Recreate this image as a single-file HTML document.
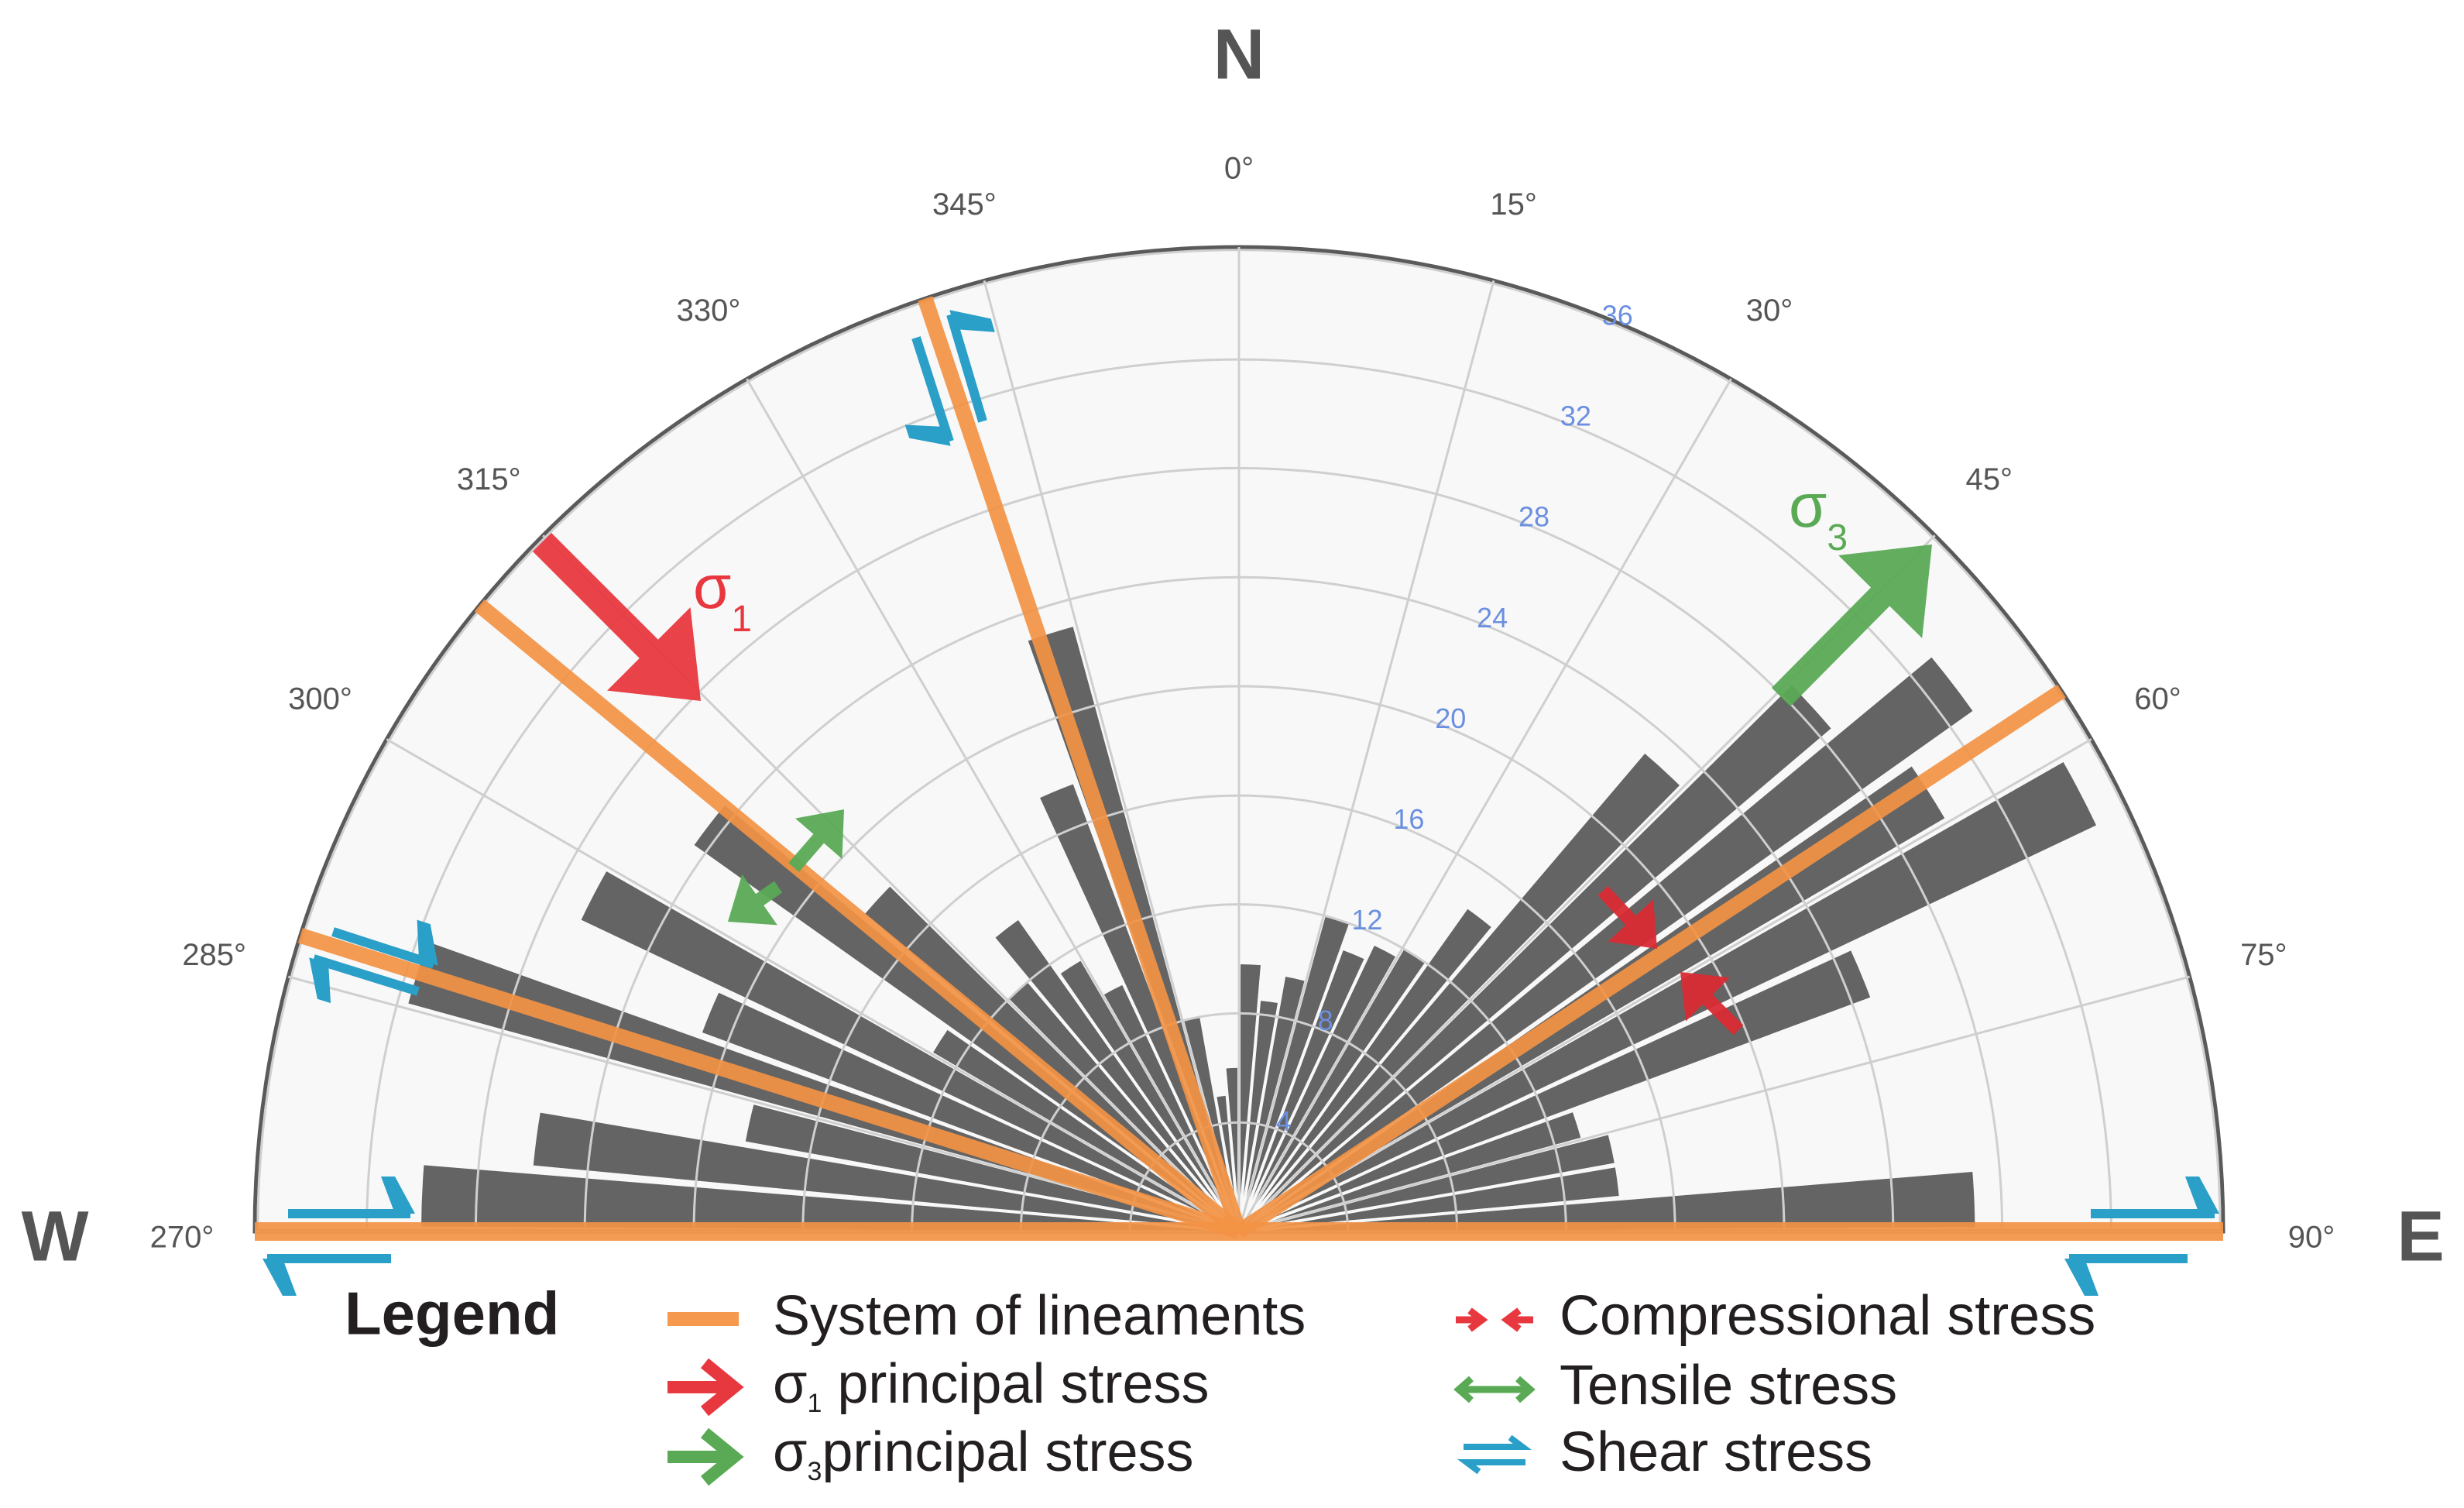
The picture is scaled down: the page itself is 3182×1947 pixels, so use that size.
<!DOCTYPE html>
<html><head><meta charset="utf-8"><style>
html,body{margin:0;padding:0;background:#fff}
svg{display:block}
text{font-family:"Liberation Sans",sans-serif}
</style></head><body>
<svg id="chart" width="3182" height="1947" viewBox="0 0 3182 1947" xmlns="http://www.w3.org/2000/svg">
<g id="bg"></g><g id="bars"></g><g id="grid"></g><g id="lines"></g><g id="arrows"></g><g id="labels"></g>
<g>
<text x="445" y="1702" font-size="78" font-weight="bold" fill="#231f20" dominant-baseline="middle">Legend</text>
<rect x="862" y="1694" width="92" height="18" fill="#f5994f"/>
<text x="998" y="1704" font-size="72" fill="#231f20" dominant-baseline="middle">System of lineaments</text>
<path d="M862 1791 H940 M910 1760 L948 1791 L910 1822" stroke="#e8383f" stroke-width="16" fill="none"/>
<text x="998" y="1792" font-size="72" fill="#231f20" dominant-baseline="middle">σ<tspan font-size="34" dy="22">1</tspan><tspan dy="-22"> principal stress</tspan></text>
<path d="M862 1881 H940 M910 1850 L948 1881 L910 1912" stroke="#5aaa55" stroke-width="16" fill="none"/>
<text x="998" y="1880" font-size="72" fill="#231f20" dominant-baseline="middle">σ<tspan font-size="34" dy="22">3</tspan><tspan dy="-22">principal stress</tspan></text>
<path d="M1880 1704 H1912 M1898 1692 L1914 1704 L1898 1716 M1980 1704 H1948 M1962 1692 L1946 1704 L1962 1716" stroke="#e8383f" stroke-width="9" fill="none"/>
<text x="2014" y="1704" font-size="72" fill="#231f20" dominant-baseline="middle">Compressional stress</text>
<path d="M1884 1794 H1976 M1900 1780 L1884 1794 L1900 1808 M1960 1780 L1976 1794 L1960 1808" stroke="#5aaa55" stroke-width="9" fill="none"/>
<text x="2014" y="1794" font-size="72" fill="#231f20" dominant-baseline="middle">Tensile stress</text>
<path d="M1890 1868 H1966 L1950 1856 M1970 1888 H1894 L1910 1900" stroke="#2a9fc8" stroke-width="8" fill="none"/>
<text x="2014" y="1880" font-size="72" fill="#231f20" dominant-baseline="middle">Shear stress</text>
</g>
</svg>
<script>
const binStarts = [270,275,280,285,290,295,300,305,310,315,320,325,330,335,340,345,350,355,0,5,10,15,20,25,30,35,40,45,50,55,60,65,70,75,80,85];
const binCounts = [30,26,18.4,31.6,21,26.7,13,24.5,18,12,14,11.5,10,17.5,23,8,5,6,9.8,8.5,9.5,12,11,11.6,12,14.5,23,28.5,33,30,34.8,24.7,13,14,14,27];
const ringValues = [4,8,12,16,20,24,28,32,36];
const ringLabels = ['4','8','12','16','20','24','28','32','36'];
const spokeAngles = [270,285,300,315,330,345,0,15,30,45,60,75,90];
const spokeLabels = ['270°','285°','300°','315°','330°','345°','0°','15°','30°','45°','60°','75°','90°'];
const lineamentAngles = [270,287.5,309.5,341.4,56.7];

const NS='http://www.w3.org/2000/svg';
const CX=1600, CY=1590, K=35.2, RMAX=1271, BIN=5;
function rad(v){return v*K;}
function pt(a,r){const t=a*Math.PI/180;return [CX+r*Math.sin(t), CY-r*Math.cos(t)];}
function mk(tag,attrs,parent){const e=document.createElementNS(NS,tag);for(const k in attrs)e.setAttribute(k,attrs[k]);parent.appendChild(e);return e;}
const gBg=document.getElementById('bg'),gBars=document.getElementById('bars'),gGrid=document.getElementById('grid'),gLines=document.getElementById('lines'),gLab=document.getElementById('labels'),gArr=document.getElementById('arrows');

const bg=mk('path',{d:`M${CX-RMAX} ${CY} A${RMAX} ${RMAX} 0 0 1 ${CX+RMAX} ${CY} Z`,fill:'#f8f8f8',stroke:'#5a5a5a','stroke-width':5},gBg);



binStarts.forEach((s,i)=>{
  const r=rad(binCounts[i]);
  const a0=s+0.35,a1=s+BIN-0.35;
  const p0=pt(a0,r),p1=pt(a1,r);
  const b=mk('path',{d:`M${CX} ${CY} L${p0[0]} ${p0[1]} A${r} ${r} 0 0 1 ${p1[0]} ${p1[1]} Z`,fill:'#646464'},gBars);
  
  
});
binStarts.forEach((s,i)=>{
  const p=pt(s,RMAX*0.98);
  if(s===270)return;
  const l=mk('line',{x1:CX,y1:CY,x2:p[0],y2:p[1],stroke:'#f8f8f8','stroke-width':4},gBars);
  
  
});
ringValues.forEach((v,i)=>{
  const r=rad(v);
  const c=mk('path',{d:`M${CX-r} ${CY} A${r} ${r} 0 0 1 ${CX+r} ${CY}`,fill:'none',stroke:'#cfcfcf','stroke-width':3},gGrid);
  
  
  const p=pt(22.5,r+10);
  const t=mk('text',{x:p[0],y:p[1],'font-size':36,fill:'#6b8fe0','text-anchor':'middle','dominant-baseline':'middle'},gLab);
  t.textContent=ringLabels[i];
  
  
});
spokeAngles.forEach((a,i)=>{
  const p=pt(a,RMAX);
  const l=mk('line',{x1:CX,y1:CY,x2:p[0],y2:p[1],stroke:'#cfcfcf','stroke-width':3},gGrid);
  
  
  let q=pt(a,1370);
  if(a===270)q=[235,1600];
  if(a===90)q=[2985,1600];
  const t=mk('text',{x:q[0],y:q[1],'font-size':40,fill:'#555','text-anchor':'middle','dominant-baseline':'middle'},gLab);
  t.textContent=spokeLabels[i];
  
  
});
lineamentAngles.forEach(a=>{
  let x1=CX,y1=CY;
  const p=pt(a,RMAX);
  if(a===270){x1=CX+RMAX;}
  const l=mk('line',{x1:x1,y1:y1,x2:p[0],y2:p[1],stroke:'#f39244','stroke-width':a===270?24:20,'stroke-opacity':0.92},gLines);
  
  
});
[['N',1600,77],['W',71,1603],['E',3126,1603]].forEach(d=>{
  const t=mk('text',{x:d[1],y:d[2],'font-size':92,'font-weight':'bold',fill:'#555','text-anchor':'middle','dominant-baseline':'middle'},gLab);
  t.textContent=d[0];
  
  
});
function arrow(x1,y1,x2,y2,w,head,color,name){
  const dx=x2-x1,dy=y2-y1,L=Math.hypot(dx,dy),ux=dx/L,uy=dy/L,nx=-uy,ny=ux;
  const bx=x2-ux*head,by=y2-uy*head;
  const hw=head*0.8;
  const d=`M${x1+nx*w/2} ${y1+ny*w/2} L${bx+nx*w/2} ${by+ny*w/2} L${bx+nx*hw} ${by+ny*hw} L${x2} ${y2} L${bx-nx*hw} ${by-ny*hw} L${bx-nx*w/2} ${by-ny*w/2} L${x1-nx*w/2} ${y1-ny*w/2} Z`;
  const p=mk('path',{d:d,fill:color,'fill-opacity':0.95},gArr);
  
  
}
arrow(700,700,905,905,34,95,'#e8383f','sigma1-arrow');
arrow(2300,900,2495,703,34,95,'#5aaa55','sigma3-arrow');
arrow(2070,1150,2140,1225,18,50,'#d92b33','compression-arrow-1');
arrow(2245,1330,2170,1255,18,50,'#d92b33','compression-arrow-2');
arrow(1025,1120,1090,1045,18,50,'#5aaa55','tensile-arrow-1');
arrow(1005,1145,940,1190,18,50,'#5aaa55','tensile-arrow-2');
function half(x1,y1,x2,y2,s,name){
  const dx=x2-x1,dy=y2-y1,L=Math.hypot(dx,dy),ux=dx/L,uy=dy/L,nx=-uy*s,ny=ux*s;
  const g=mk('g',{},gArr);
  
  
  mk('line',{x1:x1,y1:y1,x2:x2,y2:y2,stroke:'#2a9fc8','stroke-width':12},g);
  const p1=[x2+ux*6,y2+uy*6],p2=[x2-ux*20+nx*48,y2-uy*20+ny*48],p3=[x2-ux*38+nx*48,y2-uy*38+ny*48],p4=[x2-ux*20,y2-uy*20];
  mk('polygon',{points:`${p1} ${p2} ${p3} ${p4}`,fill:'#2a9fc8'},g);
}
half(1269,544,1228,406,1,'shear-345-right');
half(1183,436,1226,570,1,'shear-345-left');
half(430,1203,560,1245,-1,'shear-288-upper');
half(540,1280,405,1238,-1,'shear-288-lower');
half(372,1567,530,1567,-1,'shear-270-upper');
half(505,1625,345,1625,-1,'shear-270-lower');
half(2700,1567,2860,1567,-1,'shear-90-upper');
half(2825,1625,2672,1625,-1,'shear-90-lower');
const s1=mk('text',{x:895,y:785,'font-size':80,fill:'#e8383f','font-family':'Liberation Serif, serif'},gLab);
s1.innerHTML='σ<tspan font-size="48" dy="30">1</tspan>';


const s3=mk('text',{x:2310,y:680,'font-size':80,fill:'#5aaa55','font-family':'Liberation Serif, serif'},gLab);
s3.innerHTML='σ<tspan font-size="48" dy="30">3</tspan>';


</script>
</body></html>
